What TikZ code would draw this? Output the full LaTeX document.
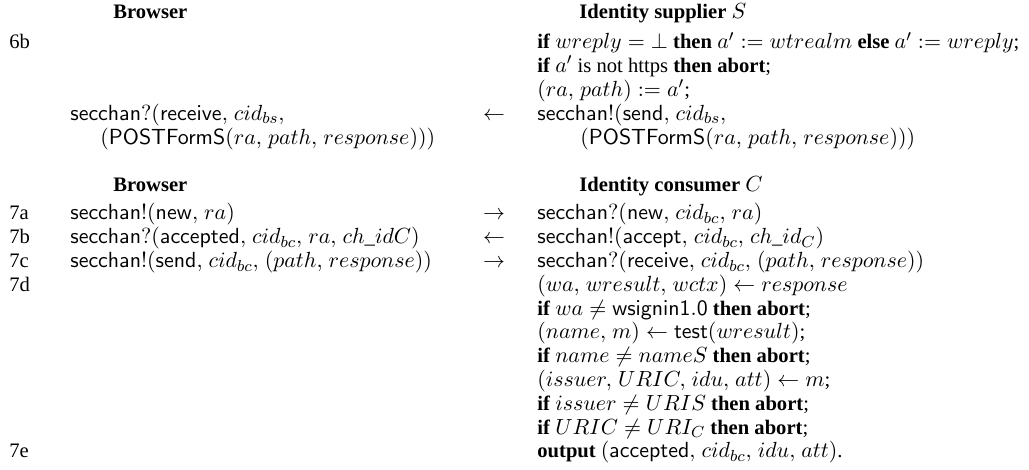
\documentclass[tikz,border=0pt]{standalone}
\usepackage[no-math]{fontspec}
\setmainfont{Liberation Serif}
\DeclareMathSizes{10.3}{10.9}{7.8}{5.8}
\thinmuskip=5mu
\begin{document}
\begin{tikzpicture}[x=0.5pt,y=-0.5pt,
  txt/.style={anchor=base west, inner sep=0pt, font=\fontsize{10.3}{12}\selectfont},
  arr/.style={anchor=base, inner sep=0pt, font=\fontsize{10.3}{12}\selectfont}]
\useasboundingbox (0,0) rectangle (1029,470);
% headers
\node[txt] (hb1) at (113,19) {\textbf{Browser}};
\node[txt] (hs)  at (579,19) {\textbf{Identity supplier} $S$};
% step 6b
\node[txt] (l6b) at (9,49) {6b};
\node[txt] (s1) at (537,49) {\textbf{if} $wreply = \bot$ \textbf{then} $a' := wtrealm$ \textbf{else} $a' := wreply$;};
\node[txt] (s2) at (537,72.8) {\textbf{if} $a'$ is not https \textbf{then abort};};
\node[txt] (s3) at (537,96.6) {$(ra, path) := a'$;};
\node[txt] (b1) at (70,120.4) {$\mathsf{secchan?}(\mathsf{receive}, cid_{bs},$};
\node[arr] (a1) at (494,120.4) {$\leftarrow$};
\node[txt] (s4) at (537,120.4) {$\mathsf{secchan!}(\mathsf{send}, cid_{bs},$};
\node[txt] (b2) at (100,144.2) {$(\mathsf{POSTFormS}(ra, path, response)))$};
\node[txt] (s5) at (580,144.2) {$(\mathsf{POSTFormS}(ra, path, response)))$};
% headers 2
\node[txt] (hb2) at (113,192) {\textbf{Browser}};
\node[txt] (hc)  at (579,192) {\textbf{Identity consumer} $C$};
% step 7
\node[txt] (l7a) at (9,220) {7a};
\node[txt] (b3) at (70,220) {$\mathsf{secchan!}(\mathsf{new}, ra)$};
\node[arr] (a2) at (494,220) {$\rightarrow$};
\node[txt] (c1) at (537,220) {$\mathsf{secchan?}(\mathsf{new}, cid_{bc}, ra)$};
\node[txt] (l7b) at (9,243.8) {7b};
\node[txt] (b4) at (70,243.8) {$\mathsf{secchan?}(\mathsf{accepted}, cid_{bc}, ra, ch\_idC)$};
\node[arr] (a3) at (494,243.8) {$\leftarrow$};
\node[txt] (c2) at (537,243.8) {$\mathsf{secchan!}(\mathsf{accept}, cid_{bc}, ch\_id_C)$};
\node[txt] (l7c) at (9,267.6) {7c};
\node[txt] (b5) at (70,267.6) {$\mathsf{secchan!}(\mathsf{send}, cid_{bc}, (path, response))$};
\node[arr] (a4) at (494,267.6) {$\rightarrow$};
\node[txt] (c3) at (537,267.6) {$\mathsf{secchan?}(\mathsf{receive}, cid_{bc}, (path, response))$};
\node[txt] (l7d) at (9,291.4) {7d};
\node[txt] (c4) at (537,291.4) {$(wa, wresult, wctx) \leftarrow response$};
\node[txt] (c5) at (537,315.2) {\textbf{if} $wa \neq \mathsf{wsignin1.0}$ \textbf{then abort};};
\node[txt] (c6) at (537,339) {$(name, m) \leftarrow \mathsf{test}(wresult)$;};
\node[txt] (c7) at (537,362.8) {\textbf{if} $name \neq nameS$ \textbf{then abort};};
\node[txt] (c8) at (537,386.6) {$(issuer, URIC, idu, att) \leftarrow m$;};
\node[txt] (c9) at (537,410.4) {\textbf{if} $issuer \neq URIS$ \textbf{then abort};};
\node[txt] (c10) at (537,434.2) {\textbf{if} $URIC \neq URI_C$ \textbf{then abort};};
\node[txt] (l7e) at (9,458) {7e};
\node[txt] (c11) at (537,458) {\textbf{output} $(\mathsf{accepted}, cid_{bc}, idu, att)$.};
\end{tikzpicture}
\end{document}
